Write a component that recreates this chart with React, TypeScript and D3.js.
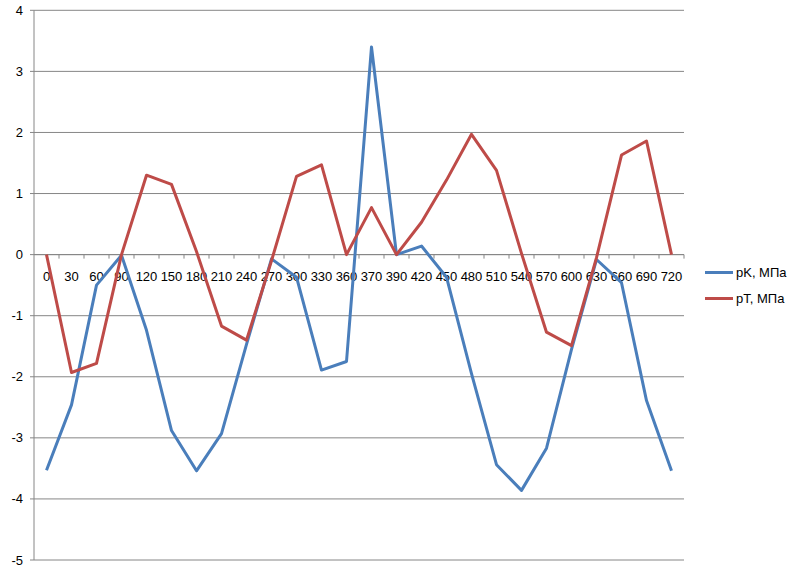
import React from "react";
import * as d3 from "d3";

const categories = ["0","30","60","90","120","150","180","210","240","270","300","330","360","370","390","420","450","480","510","540","570","600","630","660","690","720"];
const pK = [-3.53,-2.46,-0.5,-0.01,-1.24,-2.88,-3.54,-2.93,-1.47,-0.07,-0.37,-1.89,-1.75,3.4,0,0.14,-0.37,-1.95,-3.44,-3.86,-3.17,-1.55,-0.08,-0.46,-2.39,-3.54];
const pT = [0,-1.93,-1.78,0,1.3,1.15,0.05,-1.17,-1.4,-0.1,1.28,1.47,0,0.77,0,0.53,1.22,1.97,1.38,0.02,-1.27,-1.49,-0.05,1.63,1.86,0];
const yTicks = [-5,-4,-3,-2,-1,0,1,2,3,4];
const seriesNames = ["pK, МПа", "pT, МПа"];
const colors = ["#4A7EBB", "#BE4B48"];

export default function App() {
  const W = 787, H = 572;
  const left = 34, right = 684, top = 10.3, bottom = 560;
  const x = d3.scaleBand<string>().domain(categories).range([left, right]);
  const y = d3.scaleLinear().domain([-5, 4]).range([bottom, top]);
  const cx = (c: string) => (x(c) as number) + x.bandwidth() / 2;
  const line = d3.line<number>().x((_, i) => cx(categories[i])).y((d) => y(d));
  const font = "'Liberation Sans', Arial, sans-serif";
  const grid = "#868686";
  const y0 = y(0);
  return (
    <svg width={W} height={H} style={{ position: "absolute", left: 0, top: 0, background: "#fff" }}>
      {yTicks.map((t) => (
        <g key={t}>
          <line x1={left - 4} x2={right} y1={y(t)} y2={y(t)} stroke={grid} strokeWidth={1} />
          <text x={23} y={y(t)} dy="0.35em" textAnchor="end" fontFamily={font} fontSize={13} fill="#000">{t}</text>
        </g>
      ))}
      <line x1={left} x2={left} y1={top} y2={bottom} stroke={grid} strokeWidth={1} />
      <line x1={left} x2={right} y1={y0} y2={y0} stroke={grid} strokeWidth={1} />
      {categories.map((c, i) => (
        <line key={"t" + i} x1={(x(c) as number) + x.bandwidth()} x2={(x(c) as number) + x.bandwidth()} y1={y0} y2={y0 + 4} stroke={grid} />
      ))}
      {categories.map((c) => (
        <text key={c} x={cx(c)} y={y0 + 22} dy="0.35em" textAnchor="middle" fontFamily={font} fontSize={13} fill="#000">{c}</text>
      ))}
      {[pK, pT].map((s, k) => (
        <path key={k} d={line(s) || ""} fill="none" stroke={colors[k]} strokeWidth={3} strokeLinejoin="round" />
      ))}
      {seriesNames.map((n, k) => (
        <g key={n}>
          <line x1={705} x2={733} y1={272.5 + k * 26} y2={272.5 + k * 26} stroke={colors[k]} strokeWidth={3} />
          <text x={736} y={272.5 + k * 26} dy="0.35em" fontFamily={font} fontSize={13} fill="#000">{n}</text>
        </g>
      ))}
    </svg>
  );
}
